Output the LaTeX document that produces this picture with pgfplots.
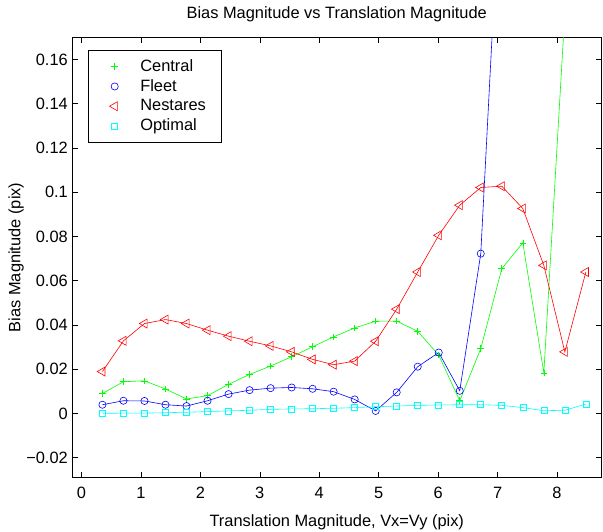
\documentclass[border=0pt]{standalone}
\usepackage{pgfplots}
\pgfplotsset{compat=1.18}
\usepackage{fontspec}
\setmainfont{Liberation Sans}
\definecolor{mgreen}{rgb}{0,1,0}
\definecolor{mblue}{rgb}{0,0,1}
\definecolor{mred}{rgb}{1,0,0}
\definecolor{mcyan}{rgb}{0,1,1}
\newcommand{\mfont}{\fontsize{16.4bp}{19bp}\selectfont}
\newcommand{\lgd}[1]{\makebox[81bp][l]{#1}}
\begin{document}
\begin{tikzpicture}
\begin{axis}[
    scale only axis,
    width=528.5bp, height=440.2bp,
    xmin=-0.15, xmax=8.74,
    ymin=-0.029, ymax=0.17,
    xtick={0,1,2,3,4,5,6,7,8},
    ytick={-0.02,0,0.02,0.04,0.06,0.08,0.1,0.12,0.14,0.16},
    yticklabels={−0.02,0,0.02,0.04,0.06,0.08,0.1,0.12,0.14,0.16},
    tick align=inside,
    major tick length=5.5bp,
    axis line style={line width=0.8pt},
    tick style={line width=0.5pt,black},
    /pgf/number format/assume math mode=true,
    ticklabel style={font=\mfont, inner sep=0pt},
    xticklabel style={yshift=-9.2bp},
    yticklabel style={xshift=-4.5bp},
    title style={font=\mfont, inner sep=0pt, at={(axis description cs:0.5,1)}, anchor=base, yshift=13bp},
    xlabel style={font=\mfont, inner sep=0pt, at={(axis description cs:0.5,0)}, anchor=base, yshift=-49.2bp},
    ylabel style={font=\mfont, inner sep=0pt, at={(axis description cs:-0.0918,0.5)}, anchor=south, rotate=0},
    title={Bias Magnitude vs Translation Magnitude},
    xlabel={Translation Magnitude, Vx=Vy (pix)},
    ylabel={Bias Magnitude (pix)},
    legend style={at={(rel axis cs:0,1)}, anchor=north west, xshift=15.8bp, yshift=-12.7bp,
        font=\mfont, draw=black, line width=0.8pt,
        nodes={inner sep=0pt, text height=13bp, text depth=3.5bp},
        inner xsep=0pt, inner ysep=8bp, row sep=3.3bp, column sep=0pt},
    legend cell align=left,
    legend image code/.code={\path (0bp,0bp) (51bp,0bp); \draw[only marks,line width=0.6pt,#1] plot coordinates {(25.7bp,0bp)};},
    every axis plot/.append style={line width=0.6pt},
]
\coordinate (SW) at (rel axis cs:0,0);
\coordinate (NE) at (rel axis cs:1,1);
% Central
\addplot[color=mgreen, mark=+, mark size=3.3bp] coordinates {
(0.3536,0.0090) (0.7071,0.0143) (1.0607,0.0147) (1.4142,0.0110) (1.7678,0.0065)
(2.1213,0.0080) (2.4749,0.0131) (2.8284,0.0176) (3.1820,0.0214) (3.5355,0.0256)
(3.8891,0.0301) (4.2426,0.0346) (4.5962,0.0386) (4.9497,0.0417) (5.3033,0.0417)
(5.6569,0.0371) (6.0104,0.0263) (6.3640,0.0057) (6.7175,0.0293) (7.0711,0.0654)
(7.4246,0.0771) (7.7782,0.0183) (8.1317,0.1810)
};
% Fleet
\addplot[color=mblue, mark=o, mark size=3.6bp] coordinates {
(0.3536,0.0039) (0.7071,0.0057) (1.0607,0.0056) (1.4142,0.0039) (1.7678,0.0033)
(2.1213,0.0057) (2.4749,0.0087) (2.8284,0.0105) (3.1820,0.0114) (3.5355,0.0117)
(3.8891,0.0111) (4.2426,0.0098) (4.5962,0.0063) (4.9497,0.0011) (5.3033,0.0095)
(5.6569,0.0211) (6.0104,0.0275) (6.3640,0.0102) (6.7175,0.0722) (7.0711,0.2550)
};
% Nestares
\addplot[color=mred, mark=triangle, mark size=5.2bp, mark options={rotate=90}] coordinates {
(0.3536,0.0189) (0.7071,0.0328) (1.0607,0.0406) (1.4142,0.0424) (1.7678,0.0406)
(2.1213,0.0376) (2.4749,0.0349) (2.8284,0.0326) (3.1820,0.0305) (3.5355,0.0278)
(3.8891,0.0244) (4.2426,0.0220) (4.5962,0.0236) (4.9497,0.0326) (5.3033,0.0471)
(5.6569,0.0639) (6.0104,0.0805) (6.3640,0.0941) (6.7175,0.1021) (7.0711,0.1027)
(7.4246,0.0926) (7.7782,0.0669) (8.1317,0.0278) (8.4853,0.0639)
};
% Optimal
\addplot[color=mcyan, mark=square, mark size=3bp] coordinates {
(0.3536,0.0000) (0.7071,0.0001) (1.0607,0.0001) (1.4142,0.0003) (1.7678,0.0005)
(2.1213,0.0008) (2.4749,0.0011) (2.8284,0.0014) (3.1820,0.0018) (3.5355,0.0020)
(3.8891,0.0021) (4.2426,0.0023) (4.5962,0.0026) (4.9497,0.0030) (5.3033,0.0033)
(5.6569,0.0036) (6.0104,0.0038) (6.3640,0.0039) (6.7175,0.0039) (7.0711,0.0036)
(7.4246,0.0026) (7.7782,0.0012) (8.1317,0.0014) (8.4853,0.0042)
};
\legend{\lgd{Central},\lgd{Fleet},\lgd{Nestares},\lgd{Optimal}}
\end{axis}
\pgfresetboundingbox
\path[use as bounding box] ([shift={(-72.5bp,-53.5bp)}]SW) rectangle ([shift={(2bp,37.3bp)}]NE);
\end{tikzpicture}
\end{document}
